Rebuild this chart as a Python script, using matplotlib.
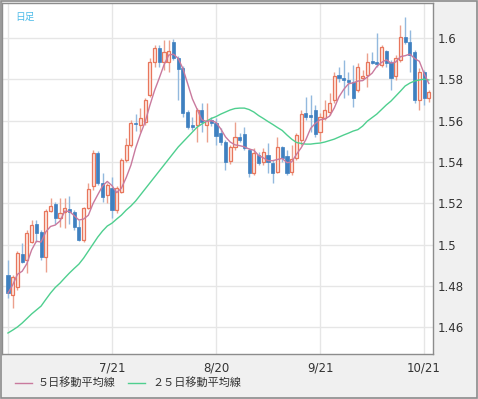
import matplotlib
matplotlib.use("Agg")
import matplotlib.pyplot as plt
from matplotlib.lines import Line2D
from matplotlib.patches import Rectangle
import numpy as np
import pandas as pd

# daily candles (index 0 = first day shown)
opens = [1.4853, 1.4756, 1.4795, 1.4955, 1.4926, 1.5013, 1.5100, 1.5061, 1.4940, 1.5162,
         1.5196, 1.5129, 1.5158, 1.5172, 1.5158, 1.5085, 1.5022, 1.5177, 1.5283, 1.5443,
         1.5298, 1.5240, 1.5274, 1.5167, 1.5254, 1.5409, 1.5481, 1.5588, 1.5578, 1.5593,
         1.5723, 1.5883, 1.5950, 1.5883, 1.5883, 1.5979, 1.5902, 1.5854, 1.5641, 1.5578,
         1.5578, 1.5651, 1.5578, 1.5602, 1.5588, 1.5539, 1.5496, 1.5404, 1.5472, 1.5520,
         1.5535, 1.5457, 1.5346, 1.5433, 1.5399, 1.5433, 1.5394, 1.5351, 1.5472, 1.5428,
         1.5351, 1.5419, 1.5506, 1.5636, 1.5626, 1.5651, 1.5544, 1.5612, 1.5641, 1.5699,
         1.5820, 1.5805, 1.5796, 1.5786, 1.5747, 1.5805, 1.5820, 1.5887, 1.5883, 1.5868,
         1.5936, 1.5883, 1.5815, 1.5892, 1.6003, 1.5979, 1.5931, 1.5699, 1.5834, 1.5709]
highs = [1.4926, 1.4853, 1.4969, 1.5008, 1.5071, 1.5119, 1.5119, 1.5071, 1.5172, 1.5225,
         1.5206, 1.5225, 1.5225, 1.5235, 1.5167, 1.5119, 1.5182, 1.5298, 1.5457, 1.5452,
         1.5346, 1.5298, 1.5327, 1.5283, 1.5419, 1.5515, 1.5602, 1.5631, 1.5660, 1.5709,
         1.5902, 1.5965, 1.5965, 1.5989, 1.5989, 1.5994, 1.5912, 1.5863, 1.5651, 1.5617,
         1.5660, 1.5684, 1.5684, 1.5617, 1.5612, 1.5564, 1.5506, 1.5481, 1.5593, 1.5539,
         1.5568, 1.5467, 1.5467, 1.5448, 1.5467, 1.5491, 1.5409, 1.5520, 1.5477, 1.5457,
         1.5481, 1.5539, 1.5651, 1.5713, 1.5723, 1.5675, 1.5636, 1.5699, 1.5733, 1.5834,
         1.5858, 1.5892, 1.5834, 1.5868, 1.5878, 1.5844, 1.5926, 1.5931, 1.6023, 1.5965,
         1.5941, 1.5892, 1.5916, 1.6061, 1.6100, 1.6037, 1.5941, 1.5854, 1.5844, 1.5747]
lows = [1.4742, 1.4694, 1.4781, 1.4911, 1.4863, 1.5008, 1.5013, 1.4926, 1.4868, 1.5158,
        1.5100, 1.5085, 1.5080, 1.5100, 1.5071, 1.5017, 1.5013, 1.5172, 1.5264, 1.5288,
        1.5206, 1.5201, 1.5129, 1.5153, 1.5249, 1.5399, 1.5472, 1.5549, 1.5544, 1.5578,
        1.5713, 1.5858, 1.5858, 1.5844, 1.5834, 1.5892, 1.5699, 1.5617, 1.5559, 1.5554,
        1.5496, 1.5544, 1.5496, 1.5573, 1.5481, 1.5481, 1.5361, 1.5390, 1.5457, 1.5496,
        1.5457, 1.5327, 1.5336, 1.5385, 1.5385, 1.5346, 1.5298, 1.5346, 1.5399, 1.5336,
        1.5336, 1.5409, 1.5481, 1.5602, 1.5544, 1.5520, 1.5501, 1.5602, 1.5626, 1.5684,
        1.5786, 1.5709, 1.5723, 1.5665, 1.5738, 1.5796, 1.5762, 1.5873, 1.5858, 1.5858,
        1.5858, 1.5747, 1.5796, 1.5883, 1.5970, 1.5834, 1.5684, 1.5651, 1.5675, 1.5689]
closes = [1.4766, 1.4844, 1.4960, 1.4916, 1.5056, 1.5095, 1.5056, 1.4940, 1.5162, 1.5187,
          1.5129, 1.5153, 1.5177, 1.5158, 1.5085, 1.5022, 1.5177, 1.5269, 1.5443, 1.5298,
          1.5230, 1.5288, 1.5167, 1.5274, 1.5409, 1.5481, 1.5588, 1.5581, 1.5612, 1.5699,
          1.5883, 1.5950, 1.5883, 1.5931, 1.5936, 1.5902, 1.5849, 1.5636, 1.5568, 1.5568,
          1.5651, 1.5593, 1.5597, 1.5588, 1.5525, 1.5496, 1.5399, 1.5472, 1.5520, 1.5506,
          1.5467, 1.5346, 1.5443, 1.5394, 1.5448, 1.5399, 1.5346, 1.5472, 1.5419, 1.5346,
          1.5414, 1.5530, 1.5631, 1.5617, 1.5617, 1.5535, 1.5617, 1.5651, 1.5684, 1.5815,
          1.5805, 1.5796, 1.5786, 1.5709, 1.5858, 1.5815, 1.5883, 1.5878, 1.5873, 1.5955,
          1.5878, 1.5805, 1.5902, 1.6003, 1.5979, 1.5916, 1.5699, 1.5834, 1.5709, 1.5738]

# 25-day moving average as shown on the chart
ma25 = [1.4573, 1.4587, 1.4602, 1.4621, 1.4643, 1.4665, 1.4684, 1.4703, 1.4735, 1.4766,
        1.4793, 1.4814, 1.4839, 1.4863, 1.4885, 1.4906, 1.4935, 1.4969, 1.5003, 1.5037,
        1.5066, 1.5090, 1.5104, 1.5124, 1.5143, 1.5167, 1.5187, 1.5211, 1.5240, 1.5269,
        1.5298, 1.5327, 1.5356, 1.5385, 1.5414, 1.5443, 1.5472, 1.5496, 1.5520, 1.5544,
        1.5568, 1.5583, 1.5597, 1.5610, 1.5619, 1.5631, 1.5641, 1.5651, 1.5658, 1.5660,
        1.5660, 1.5653, 1.5641, 1.5624, 1.5610, 1.5595, 1.5581, 1.5566, 1.5552, 1.5530,
        1.5510, 1.5494, 1.5489, 1.5486, 1.5486, 1.5489, 1.5491, 1.5496, 1.5503, 1.5510,
        1.5520, 1.5530, 1.5539, 1.5549, 1.5556, 1.5573, 1.5597, 1.5614, 1.5631, 1.5653,
        1.5675, 1.5694, 1.5718, 1.5742, 1.5767, 1.5781, 1.5791, 1.5796, 1.5800, 1.5796]

tick_pos = [0, 22, 44, 66, 88]
tick_labels = ["", "7/21", "8/20", "9/21", "10/21"]
y_ticks = [1.46, 1.48, 1.50, 1.52, 1.54, 1.56, 1.58, 1.60]

UP_EDGE = "#e8765c"
UP_FILL = "#fde9e2"
UP_WICK = "#eba08d"
DN_BODY = "#3f80c0"
DN_WICK = "#93b9de"
MA5_C = "#c97a9e"
MA25_C = "#4fcf8f"

o = np.array(opens)
h = np.array(highs)
l = np.array(lows)
c = np.array(closes)
x = np.arange(len(c))
up = c >= o
ma5 = pd.Series(closes).rolling(5, min_periods=1).mean()

fig = plt.figure(figsize=(4.78, 3.99), dpi=100)
fig.patch.set_facecolor("#f0f0f0")
ax = fig.add_axes([0.0048, 0.112, 0.9017, 0.881])
ax.set_facecolor("white")

# wicks
ax.vlines(x[up], l[up], h[up], color=UP_WICK, linewidth=1.0, zorder=2)
ax.vlines(x[~up], l[~up], h[~up], color=DN_WICK, linewidth=1.0, zorder=2)

# bodies
w = 0.66
body_h = np.maximum(np.abs(c - o), 0.0003)
body_b = np.minimum(o, c)
ax.bar(x[up], body_h[up], w, bottom=body_b[up], color=UP_FILL,
       edgecolor=UP_EDGE, linewidth=0.9, zorder=3)
ax.bar(x[~up], body_h[~up], w, bottom=body_b[~up], color=DN_BODY,
       edgecolor=DN_BODY, linewidth=0.5, zorder=3)

ax.plot(x, ma25, color=MA25_C, linewidth=1.0, zorder=4)
ax.plot(x, ma5, color=MA5_C, linewidth=1.0, zorder=4)

ax.set_xlim(-1.2, 89.95)
ax.set_ylim(1.447, 1.6169)
ax.set_xticks(tick_pos)
ax.set_xticklabels(tick_labels)
ax.set_yticks(y_ticks)
ax.set_yticklabels(["%g" % v for v in y_ticks])
ax.yaxis.tick_right()
ax.tick_params(length=0, labelsize=8.5, colors="#333333")
ax.tick_params(axis="x", pad=5)
ax.tick_params(axis="y", pad=3)
ax.grid(True, color="#e6e6e6", linewidth=1.0, zorder=0)
ax.set_axisbelow(True)
for s in ax.spines.values():
    s.set_color("#8c8c8c")
    s.set_linewidth(1.0)

ax.text(0.03, 0.975, "日足", transform=ax.transAxes, ha="left", va="top",
        fontsize=7, color="#4cbbe8", family=["Noto Sans CJK JP", "DejaVu Sans"])

# legend drawn along the bottom strip
ly = 1 - 383 / 399
fig.add_artist(Line2D([15 / 478, 32 / 478], [ly, ly], color=MA5_C, linewidth=1.0))
fig.text(38 / 478, ly, "５日移動平均線", va="center", ha="left", fontsize=8,
         color="#333333", family=["Noto Sans CJK JP", "DejaVu Sans"])
fig.add_artist(Line2D([128 / 478, 145 / 478], [ly, ly], color=MA25_C, linewidth=1.0))
fig.text(152 / 478, ly, "２５日移動平均線", va="center", ha="left", fontsize=8,
         color="#333333", family=["Noto Sans CJK JP", "DejaVu Sans"])

# outer frame
fig.add_artist(Rectangle((0.002, 0.003), 0.995, 0.994, transform=fig.transFigure,
                         fill=False, edgecolor="#8c8c8c", linewidth=1.2))

fig.savefig("out.png", dpi=100, facecolor=fig.get_facecolor())
